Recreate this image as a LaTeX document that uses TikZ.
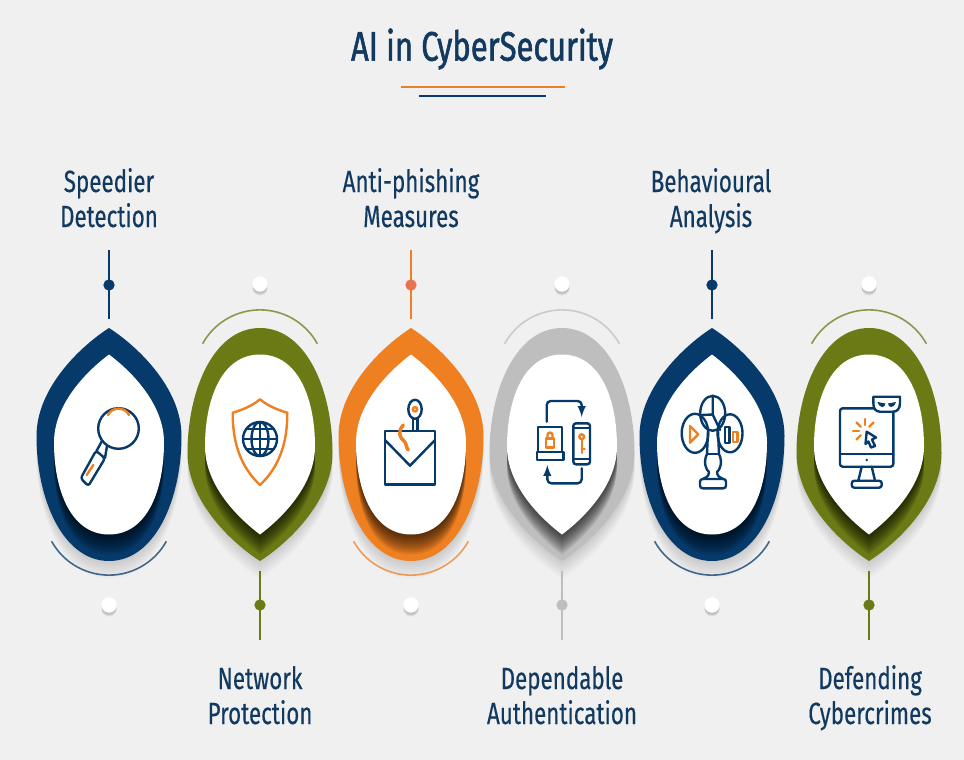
\documentclass[tikz,border=0pt]{standalone}
\usepackage{fontspec}
\usetikzlibrary{calc}
\setmainfont[FakeStretch=0.73,FakeBold=0.35]{Fira Sans}
\newfontfamily\titlefont[FakeStretch=0.75,FakeBold=1.3]{Fira Sans}
\definecolor{navy}{HTML}{063A6B}
\definecolor{olive}{HTML}{6B7A14}
\definecolor{amber}{HTML}{EF8022}
\definecolor{silver}{HTML}{BEBEBE}
\definecolor{coral}{HTML}{E8734F}
\definecolor{paper}{HTML}{F0F0F0}
\definecolor{inktext}{HTML}{12395F}
\tikzset{
  droplabel/.style={align=center, text=inktext, font=\fontsize{23}{26.25}\selectfont, inner sep=0pt},
  stemdot/.style={circle, inner sep=0pt, minimum size=8.5pt},
  whitedot/.style={circle, fill=white, inner sep=0pt, minimum size=11.5pt},
  iconline/.style={draw=navy, line width=1.8pt, line join=round, line cap=round},
  iconaccent/.style={draw=amber, line width=1.8pt, line join=round, line cap=round},
}
\newcommand{\outerdrop}{(0,-116.5) .. controls (26,-100) and (72.5,-58) .. (72.5,-8.5) .. controls (72.5,55) and (46,116.5) .. (0,116.5) .. controls (-46,116.5) and (-72.5,55) .. (-72.5,-8.5) .. controls (-72.5,-58) and (-26,-100) .. (0,-116.5) -- cycle}
\newcommand{\innerdrop}{(0,-90) .. controls (20,-75) and (55,-42) .. (55,-2) .. controls (55,46) and (38,90) .. (0,90) .. controls (-38,90) and (-55,46) .. (-55,-2) .. controls (-55,-42) and (-20,-75) .. (0,-90) -- cycle}
\begin{document}
\begin{tikzpicture}[x=0.75pt, y=-0.75pt]
    \useasboundingbox (0,0) rectangle (964,760);
    \fill[paper] (0,0) rectangle (964,760);
    \node[font=\titlefont\fontsize{31}{34}\selectfont, text=inktext, inner sep=0pt] (title) at (482,49) {AI in CyberSecurity};
    \coordinate (ruleAleft) at (401,87);
    \coordinate (ruleAright) at (565,87);
    \coordinate (ruleBleft) at (419,96);
    \coordinate (ruleBright) at (546,96);
    \draw[draw=amber, line width=2.2pt] (ruleAleft) -- (ruleAright);
    \draw[draw=navy, line width=2.2pt] (ruleBleft) -- (ruleBright);
    \foreach \n/\cx/\sgn/\col/\tip in {a/109/1/navy/navy, b/260/-1/olive/olive, c/411/1/amber/coral, d/562/-1/silver/silver, e/712/1/navy/navy, f/869/-1/olive/olive}{
        \begin{scope}[shift={(\cx,444.5)}]
            \foreach \s in {2,4,...,18}
                \fill[black, opacity=0.014, shift={(0,\s)}, yscale=\sgn] \outerdrop;
            \fill[\col, yscale=\sgn] \outerdrop;
            \begin{scope}[yscale=\sgn]
                \clip \outerdrop;
                \foreach \s in {2,4,...,20}
                    \fill[black, opacity=0.085, shift={(0,\s*\sgn)}] \innerdrop;
            \end{scope}
            \fill[white, yscale=\sgn] \innerdrop;
            \draw[\col, opacity=0.75, line width=1.2pt, yscale=\sgn] (-57.4,{96.8+(1-\sgn)*2}) arc[start angle=151, end angle=29, radius=65.6];
            \coordinate (stemtop\n) at (0,{-194.5*\sgn+(1-\sgn)/2});
            \coordinate (stembot\n) at (0,{-125.5*\sgn+(1-\sgn)/2});
            \draw[draw=\col, line width=2.1pt] (stemtop\n) -- (stembot\n);
            \node[stemdot, fill=\tip] (stemdot\n) at (0,{-159.5*\sgn+(1-\sgn)/2}) {};
            \foreach \s in {1,2,3}
                \fill[black, opacity=0.07] (0,{160.5*\sgn+1+\s}) circle[radius=7.5];
            \node[whitedot] (whitedot\n) at (0,{160.5*\sgn}) {};
        \end{scope}
    }
    \node[droplabel] (speedier) at (109,202.5) {\strut Speedier\\\strut Detection};
    \node[droplabel] (network) at (260,699.5) {\strut Network\\\strut Protection};
    \node[droplabel] (antiphish) at (411,202.5) {\strut Anti-phishing\\\strut Measures};
    \node[droplabel] (dependable) at (562,699.5) {\strut Dependable\\\strut Authentication};
    \node[droplabel] (behaviour) at (711,202.5) {\strut Behavioural\\\strut Analysis};
    \node[droplabel] (defending) at (870,699.5) {\strut Defending\\\strut Cybercrimes};
    \draw[iconline] (118.5,428.5) circle[radius=20.3];
    \draw[iconaccent] (108,415) .. controls (112,406.5) and (125,406.5) .. (129,415);
    \draw[iconline] (102,441) -- (96.5,451);
    \draw[iconline] (107,446) -- (105,458);
    \draw[iconline, rounded corners=2pt] (96,450.7) -- (105,458.3) -- (88.3,486) -- (80.7,478.3) -- cycle;
    \draw[iconaccent] (93.3,465) -- (86.7,475);
    \draw[iconaccent] (260,399.3) .. controls (268,406) and (278,410) .. (287.3,412.7) .. controls (287.5,445) and (278,468) .. (260,485) .. controls (242,468) and (232.5,445) .. (232.7,412.7) .. controls (242,410) and (252,406) .. (260,399.3) -- cycle;
    \draw[iconline] (260,439) circle[radius=17];
    \draw[iconline] (260,439) ellipse[x radius=8.5, y radius=17];
    \draw[iconline] (260,422) -- (260,456);
    \draw[iconline] (243,439) -- (277,439);
    \draw[iconline] (246,429) -- (274,429);
    \draw[iconline] (246,449) -- (274,449);
    \draw[iconline] (385,430.7) rectangle (435,484.3);
    \draw[iconline] (385,440) -- (410,465.7) -- (435,440);
    \draw[iconline] (415,409.3) ellipse[x radius=6.7, y radius=9.5];
    \draw[iconline] (412.7,419) -- (412.7,430.7);
    \draw[iconline] (417.3,419) -- (417.3,430.7);
    \draw[iconaccent] (415,409.3) circle[radius=2.2];
    \draw[iconaccent, line width=2.6pt] (403.3,425) .. controls (397,432) and (400,438) .. (404,441) .. controls (407,444) and (406,448) .. (408.3,450);
    \draw[iconline] (537.7,451.7) -- (537.7,426.7) -- (561.7,426.7) -- (561.7,451.7);
    \draw[iconline] (536.7,451.7) rectangle (563.3,460);
    \draw[iconaccent] (546,438.3) rectangle (554,447.3);
    \draw[iconaccent] (547.5,438.3) -- (547.5,435) arc[start angle=180, end angle=360, radius=2.5] -- (552.5,438.3);
    \draw[iconline, rounded corners=2pt] (573.3,423.3) rectangle (590,464.3);
    \draw[iconline] (573.3,428) -- (590,428);
    \draw[iconline] (573.3,459) -- (590,459);
    \draw[iconaccent] (581.7,436.7) circle[radius=2.4];
    \draw[iconaccent] (581.7,439) -- (581.7,453);
    \draw[iconaccent] (581.7,449) -- (584.5,449);
    \draw[iconline, -latex, rounded corners=3pt] (546.7,421.7) -- (546.7,401) -- (581.7,401) -- (581.7,417);
    \draw[iconline, -latex, rounded corners=3pt] (581.7,468.3) -- (581.7,483.3) -- (547.3,483.3) -- (547.3,465);
    \draw[iconline] (712.7,413.3) ellipse[x radius=12.5, y radius=17.5];
    \draw[iconline] (712.7,395.8) -- (712.7,414.5) -- (701.5,415);
    \draw[iconline] (712.7,414.5) -- (720,430);
    \draw[iconline] (695,433.3) ellipse[x radius=13.3, y radius=19.5];
    \draw[iconline] (730,433.3) ellipse[x radius=12.5, y radius=19];
    \draw[iconaccent] (690,426) -- (690,442.7) -- (698.3,434.3) -- cycle;
    \draw[iconline] (725,426.7) rectangle (729.3,442.7);
    \draw[iconaccent] (732.7,431.7) rectangle (737.3,441.7);
    \draw[iconline] (708,431) -- (707,454) .. controls (703,462) and (706,470) .. (709,472) .. controls (709,476) and (706,478) .. (703,479);
    \draw[iconline] (718,431) -- (719,454) .. controls (723,462) and (720,470) .. (717,472) .. controls (717,476) and (720,478) .. (723,479);
    \draw[iconline] (707,454) -- (719,454);
    \draw[iconline, rounded corners=2pt] (700,479) rectangle (726,488.3);
    \draw[iconline, rounded corners=2pt] (840,408.3) rectangle (893.3,466.7);
    \draw[iconline] (840,454) -- (893.3,454);
    \fill[navy] (866.7,460) circle[radius=1.4];
    \draw[iconline] (861.7,466.7) -- (858.3,480.7);
    \draw[iconline] (871.7,466.7) -- (875,480.7);
    \draw[iconline, rounded corners=2pt] (851.7,480.7) rectangle (881.7,487.7);
    \draw[iconline, fill=white] (873.3,396.7) -- (900,396.7) -- (900,403) .. controls (900,409) and (897,411.7) .. (893,411.7) -- (880,411.7) .. controls (876,411.7) and (873.3,409) .. (873.3,403) -- cycle;
    \fill[navy] (877.5,402) -- (885.5,403.5) .. controls (885,408) and (880,409) .. (877.5,402) -- cycle;
    \fill[navy] (896,402) -- (888,403.5) .. controls (888.5,408) and (893.5,409) .. (896,402) -- cycle;
    \draw[iconline, fill=white] (866.7,431.7) -- (876,437.5) -- (872,439.5) -- (875,446) -- (871,447.5) -- (868.5,441.5) -- (865.5,444) -- cycle;
    \foreach \a in {-90,-135,-45,180,135}
        \draw[iconaccent] ($(865,431)+(\a:6)$) -- ($(865,431)+(\a:12)$);
\end{tikzpicture}
\end{document}
